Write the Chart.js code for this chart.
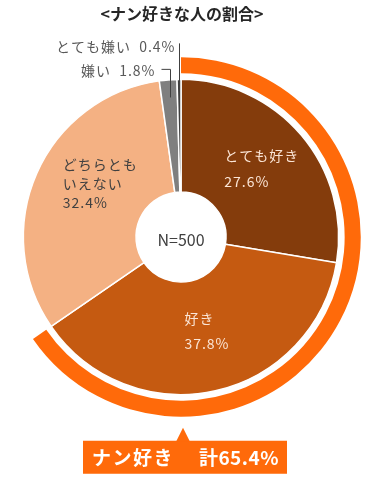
<!DOCTYPE html>
<html><head><meta charset="utf-8">
<script src="https://cdn.jsdelivr.net/npm/chart.js@4/dist/chart.umd.min.js"></script>
<style>html,body{margin:0;padding:0;background:#fff}#wrap{width:384px;height:481px;position:relative}</style>
</head><body><div id="wrap"><canvas id="c" width="384" height="481"></canvas></div>
<script>
const titleText = '<ナン好きな人の割合>';
const categories = ['とても好き', '好き', 'どちらともいえない', '嫌い', 'とても嫌い'];
const labelLines = [['とても好き'], ['好き'], ['どちらとも', 'いえない'], ['嫌い'], ['とても嫌い']];
const values = [27.6, 37.8, 32.4, 1.8, 0.4];
const likeIndexes = [0, 1];
const sampleLabel = 'N=500';
const calloutLabel = 'ナン好き';
const calloutPrefix = '計';

const sliceColors = ['#843C0C', '#C55A11', '#F4B183', '#7F7F7F', '#3F3F3F'];
const ringColor = '#FF6A0A';
const FONT = '"Noto Sans CJK JP", "Noto Sans", sans-serif';

const likeTotal = Math.round(likeIndexes.reduce((s, i) => s + values[i], 0) * 10) / 10;
const pct = v => v.toFixed(1) + '%';

// label placement specs (style only)
const insideSpecs = {
  0: {r: 106, dx: 0, dy: 0, lh: 26, color: '#FBE5D6'},
  1: {r: 96, dx: 5, dy: 0, lh: 25, color: '#FBE5D6'},
  2: {r: 97, dx: 8, dy: -14, lh: 19, color: '#404040'}
};
const outsideSpecs = {
  3: {r: 140, levelAboveTop: 10, elbow: 9, gap: 6},
  4: {r: 140, levelAboveTop: 36, elbow: 0, gap: 4}
};

const labelPlugin = {
  id: 'labels',
  afterDraw(chart) {
    const ctx = chart.ctx;
    const meta = chart.getDatasetMeta(2);
    const ringMeta = chart.getDatasetMeta(0);
    const arcs = meta.data;
    ctx.save();
    ctx.textBaseline = 'middle';
    if ('letterSpacing' in ctx) ctx.letterSpacing = '1px';
    // inside labels
    Object.keys(insideSpecs).forEach(k => {
      const i = +k, sp = insideSpecs[k];
      const a = arcs[i].getProps(['x', 'y', 'startAngle', 'endAngle'], true);
      const mid = (a.startAngle + a.endAngle) / 2;
      const cx = a.x + sp.r * Math.cos(mid) + sp.dx;
      const cy = a.y + sp.r * Math.sin(mid) + sp.dy;
      const lines = labelLines[i].concat([pct(values[i])]);
      ctx.font = '14px ' + FONT;
      ctx.fillStyle = sp.color;
      ctx.textAlign = 'left';
      const w = Math.max(...lines.map(t => ctx.measureText(t).width));
      const left = cx - w / 2;
      const y0 = cy - (lines.length - 1) * sp.lh / 2;
      lines.forEach((t, j) => ctx.fillText(t, left, y0 + j * sp.lh));
    });
    // outside labels with leader lines
    Object.keys(outsideSpecs).forEach(k => {
      const i = +k, sp = outsideSpecs[k];
      const a = arcs[i].getProps(['x', 'y', 'startAngle', 'endAngle', 'outerRadius'], true);
      const mid = (a.startAngle + a.endAngle) / 2;
      const px = a.x + sp.r * Math.cos(mid);
      const py = a.y + sp.r * Math.sin(mid);
      const ly = a.y - a.outerRadius - sp.levelAboveTop;
      ctx.strokeStyle = '#404040';
      ctx.lineWidth = 1;
      ctx.beginPath();
      const lx = Math.round(px) + 0.5;
      ctx.moveTo(lx, py);
      ctx.lineTo(lx, ly);
      if (sp.elbow) ctx.lineTo(lx - sp.elbow, ly);
      ctx.stroke();
      ctx.font = '14px ' + FONT;
      ctx.fillStyle = '#595959';
      ctx.textAlign = 'right';
      ctx.fillText(labelLines[i][0] + '  ' + pct(values[i]), lx - sp.elbow - sp.gap, ly + (sp.elbow ? 1 : 3));
    });
    // center label
    const c0 = arcs[0].getProps(['x', 'y'], true);
    ctx.font = '16px ' + FONT;
    ctx.fillStyle = '#404040';
    ctx.textAlign = 'center';
    ctx.letterSpacing = '0px';
    ctx.fillText(sampleLabel, c0.x, c0.y + 3);
    // title
    ctx.font = 'bold 16px ' + FONT;
    ctx.fillStyle = '#262626';
    ctx.fillText(titleText, c0.x + 1, 14);
    // callout
    const r0 = ringMeta.data[0].getProps(['x', 'y', 'outerRadius'], true);
    const bottom = r0.y + r0.outerRadius;
    const bx = r0.x;
    const boxL = bx - 98, boxR = bx + 106, boxT = bottom + 24, boxB = bottom + 57;
    ctx.fillStyle = ringColor;
    ctx.fillRect(boxL, boxT, boxR - boxL, boxB - boxT);
    ctx.beginPath();
    ctx.moveTo(bx - 5, boxT + 1);
    ctx.lineTo(bx + 2, bottom + 11);
    ctx.lineTo(bx + 9, boxT + 1);
    ctx.closePath();
    ctx.fill();
    ctx.font = 'bold 19px ' + FONT;
    ctx.fillStyle = '#FFFFFF';
    ctx.letterSpacing = '1.5px';
    ctx.textAlign = 'left';
    const ty = (boxT + boxB) / 2 + 1;
    ctx.fillText(calloutLabel, boxL + 9, ty);
    ctx.letterSpacing = '0.5px';
    ctx.textAlign = 'right';
    ctx.fillText(calloutPrefix + pct(likeTotal), boxR - 8, ty);
    ctx.restore();
  }
};

new Chart(document.getElementById('c'), {
  type: 'doughnut',
  data: {
    labels: categories,
    datasets: [
      {label: 'ring', data: [likeTotal, Math.round((100 - likeTotal) * 10) / 10],
       backgroundColor: [ringColor, 'rgba(0,0,0,0)'], borderWidth: 0, weight: 16},
      {label: 'gap', data: [100], backgroundColor: ['rgba(0,0,0,0)'], borderWidth: 0, weight: 6},
      {label: 'pie', data: values, backgroundColor: sliceColors, borderColor: '#FFFFFF',
       borderWidth: 1.5, weight: 112}
    ]
  },
  options: {
    responsive: false,
    animation: false,
    events: [],
    cutout: 45,
    layout: {padding: {left: 1.25, right: 23.25, top: 57.25, bottom: 64.25}},
    plugins: {legend: {display: false}, tooltip: {enabled: false}, title: {display: false}}
  },
  plugins: [labelPlugin]
});
</script>
</body></html>
